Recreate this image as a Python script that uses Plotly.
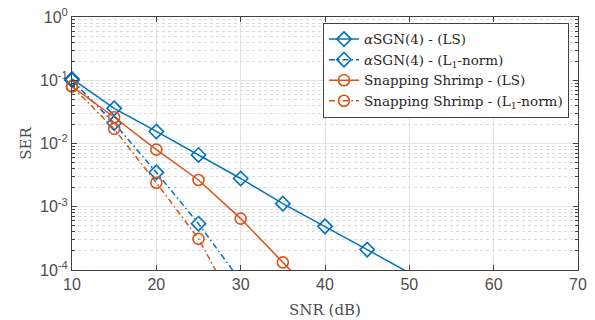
import plotly.graph_objects as go

# ---- data ----
snr_asgn_ls = [10, 15, 20, 25, 30, 35, 40, 45, 50]
ser_asgn_ls = [0.105, 0.036, 0.0155, 0.0066, 2.8e-3, 1.12e-3, 4.9e-4, 2.1e-4, 9.0e-5]

snr_asgn_l1 = [10, 15, 20, 25, 30]
ser_asgn_l1 = [0.10, 0.021, 3.5e-3, 5.4e-4, 6.7e-5]

snr_shr_ls = [10, 15, 20, 25, 30, 35, 40]
ser_shr_ls = [0.080, 0.026, 8.0e-3, 2.65e-3, 6.5e-4, 1.32e-4, 2.7e-5]

snr_shr_l1 = [10, 15, 20, 25, 30]
ser_shr_l1 = [0.080, 0.017, 2.4e-3, 3.1e-4, 1.9e-5]

names = ["<i>α</i>SGN(4) - (LS)",
         "<i>α</i>SGN(4) - (L<sub>1</sub>-norm)",
         "Snapping Shrimp - (LS)",
         "Snapping Shrimp - (L<sub>1</sub>-norm)"]

x_ticks = [10, 20, 30, 40, 50, 60, 70]
y_ticks = [1e-4, 1e-3, 1e-2, 1e-1, 1e0]
y_ticktext = ["10<sup>-4</sup>", "10<sup>-3</sup>", "10<sup>-2</sup>",
              "10<sup>-1</sup>", "10<sup>0</sup>"]
y_minor = [m * 10.0 ** e for e in range(-4, 0) for m in range(2, 10)]

BLUE = "#0072BD"
ORANGE = "#D95319"
DASH = "6px,3px,1.5px,3px"
SERIF = "DejaVu Serif, serif"
SANS = "Liberation Sans, Arial, sans-serif"

fig = go.Figure()
series = [
    (snr_asgn_ls, ser_asgn_ls, BLUE, "solid", "diamond-open", 11),
    (snr_asgn_l1, ser_asgn_l1, BLUE, DASH, "diamond-open", 11),
    (snr_shr_ls, ser_shr_ls, ORANGE, "solid", "circle-open", 11),
    (snr_shr_l1, ser_shr_l1, ORANGE, DASH, "circle-open", 11),
]
for (x, y, c, d, sym, sz), nm in zip(series, names):
    fig.add_trace(go.Scatter(
        x=x, y=y, name=nm, mode="lines+markers", cliponaxis=False,
        line=dict(color=c, width=1.5, dash=d),
        marker=dict(symbol=sym, size=sz, color=c, line=dict(color=c, width=1.6)),
    ))

axis_common = dict(
    automargin=False,
    showline=True, linecolor="#404040", linewidth=1, mirror="allticks",
    ticks="inside", ticklen=5, tickcolor="#404040",
    tickfont=dict(family=SANS, size=16, color="#4d4d4d"),
    showgrid=True, gridcolor="#e3e3e3", gridwidth=1, zeroline=False,
)

fig.update_xaxes(
    range=[10, 70], tickvals=x_ticks, ticktext=[str(v) for v in x_ticks],
    title=dict(text="SNR (dB)", font=dict(family=SERIF, size=15, color="#4d4d4d"), standoff=12),
    **axis_common,
)
fig.update_yaxes(
    type="log", range=[-4, 0], tickvals=y_ticks, ticktext=y_ticktext,
    title=dict(text="SER", font=dict(family=SERIF, size=15, color="#4d4d4d"), standoff=4),
    minor=dict(tickvals=y_minor, ticks="inside", ticklen=3, tickcolor="#404040",
               showgrid=True, gridcolor="#d9d9d9", griddash="dot", gridwidth=1),
    **axis_common,
)

fig.update_layout(
    width=595, height=320,
    margin=dict(l=72, r=17, t=17, b=50),
    plot_bgcolor="white", paper_bgcolor="white",
    showlegend=True,
    legend=dict(x=0.496, y=0.977, xanchor="left", yanchor="top",
                bgcolor="white", bordercolor="#404040", borderwidth=1,
                font=dict(family=SERIF, size=13.5, color="#262626"),
                itemwidth=30, tracegroupgap=0),
)

fig.write_html("out.html", config={"displayModeBar": False},
               post_script="document.body.style.margin='0px';")
